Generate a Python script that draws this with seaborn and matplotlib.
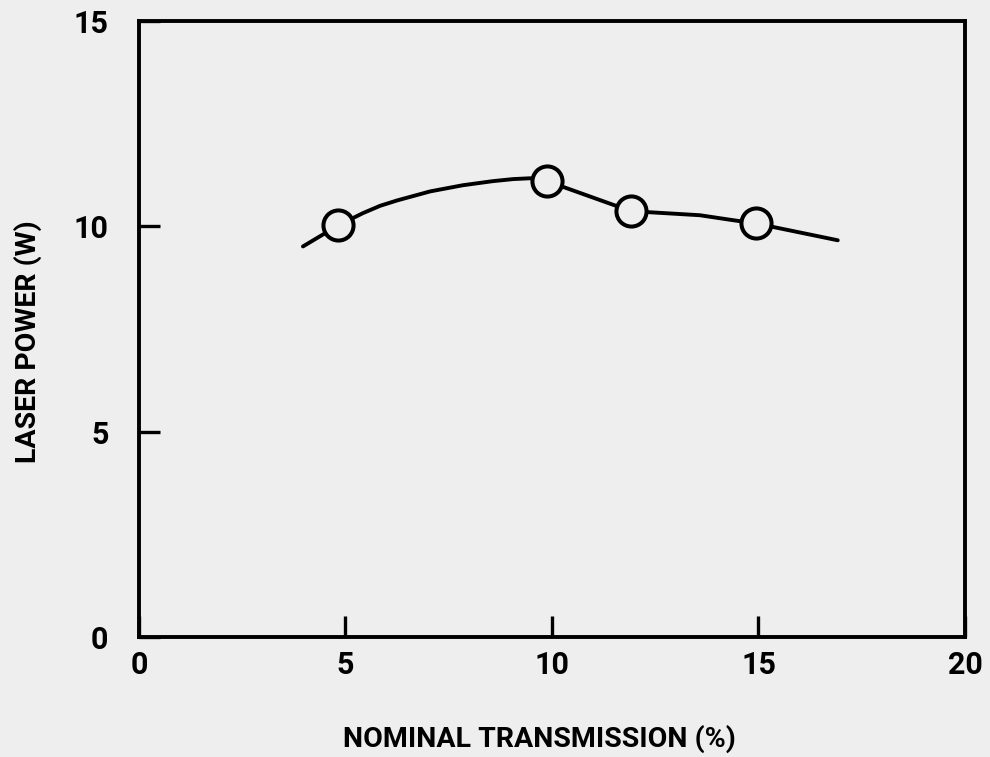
import matplotlib
matplotlib.use('Agg')
import matplotlib.pyplot as plt
import seaborn as sns
import pandas as pd

# Measured points (circles)
trans_pts = [4.82, 9.88, 11.91, 14.94]
power_pts = [10.02, 11.10, 10.37, 10.07]

# Hand-drawn fitted curve
curve_x = [3.97, 4.82, 5.42, 5.84, 6.25, 7.05, 7.84, 8.57, 9.06, 9.47, 9.88,
           11.91, 13.58, 14.38, 14.94, 16.92]
curve_y = [9.51, 10.02, 10.32, 10.50, 10.63, 10.85, 11.00, 11.10, 11.15, 11.17, 11.10,
           10.37, 10.27, 10.15, 10.07, 9.66]

x_ticks = [0, 5, 10, 15, 20]
y_ticks = [0, 5, 10, 15]

sns.set_style('white')
plt.rcParams['font.family'] = ['Roboto', 'DejaVu Sans']
plt.rcParams['font.weight'] = 'bold'

bg = '#eeeeee'
fig = plt.figure(figsize=(9.9, 7.57), dpi=100, facecolor=bg)
ax = fig.add_axes([0.1404, 0.1585, 0.8343, 0.8138], facecolor=bg)

curve = pd.DataFrame({'x': curve_x, 'y': curve_y})
pts = pd.DataFrame({'x': trans_pts, 'y': power_pts})

sns.lineplot(data=curve, x='x', y='y', sort=False, estimator=None,
             color='black', linewidth=2.8, ax=ax, zorder=2)
sns.scatterplot(data=pts, x='x', y='y', s=470, facecolor=bg,
                edgecolor='black', linewidth=2.9, ax=ax, zorder=3)

ax.set_xlim(0, 20)
ax.set_ylim(0, 15)
ax.set_xticks(x_ticks)
ax.set_yticks(y_ticks)
ax.tick_params(direction='in', length=15, width=2.4, colors='black',
               labelcolor='black', labelsize=22, bottom=True, left=True)
ax.tick_params(axis='x', pad=9)
ax.tick_params(axis='y', pad=22)
for s in ax.spines.values():
    s.set_visible(True)
    s.set_color('black')
    s.set_linewidth(2.8)

ax.set_xlabel('NOMINAL TRANSMISSION (%)', fontsize=20.5, fontweight='bold',
              color='black')
ax.set_ylabel('LASER POWER (W)', fontsize=20.5, fontweight='bold', color='black')
ax.xaxis.set_label_coords(0.485, -0.143)
ax.yaxis.set_label_coords(-0.117, 0.48)

fig.savefig('out.png', dpi=100, facecolor=bg)
